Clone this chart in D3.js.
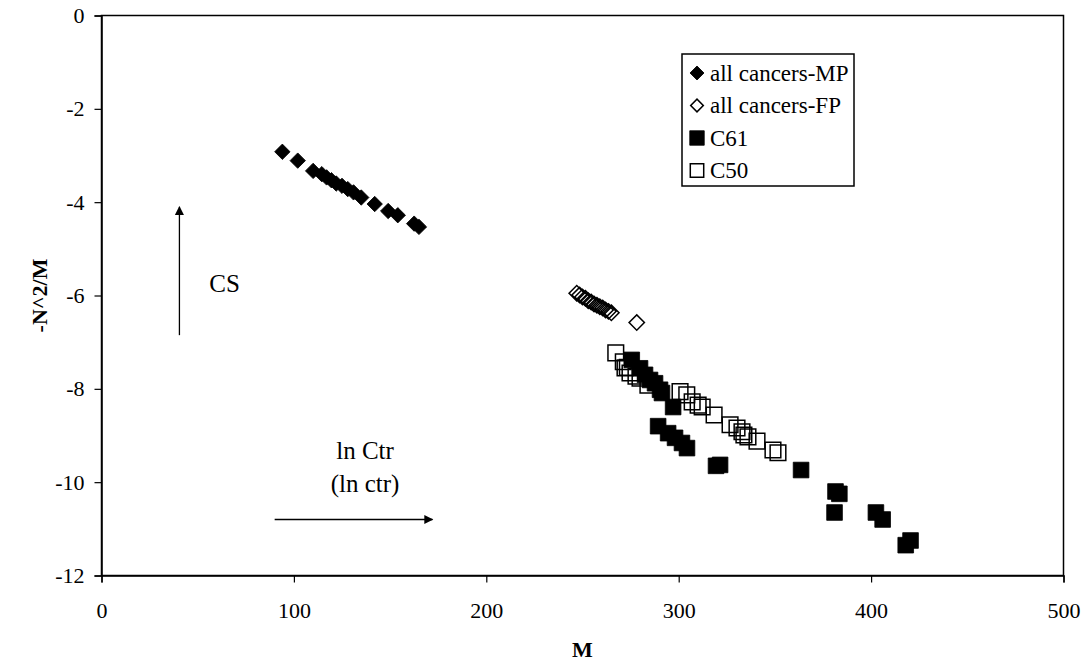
<!DOCTYPE html>
<html>
<head>
<meta charset="utf-8">
<script src="https://cdn.jsdelivr.net/npm/d3@7"></script>
<style>
  html, body { margin: 0; padding: 0; background: #fff; }
  svg { display: block; }
  text { font-family: "Liberation Serif", "Times New Roman", serif; fill: #000; }
</style>
</head>
<body>
<svg id="chart" width="1083" height="666"></svg>
<script>
// Series: [M, -N^2/M]
const allCancersMP = [
  [94, -2.92], [102, -3.11], [110, -3.33], [114.5, -3.40], [117, -3.47],
  [119.5, -3.53], [122, -3.60], [125, -3.65], [128, -3.72], [131, -3.79],
  [135, -3.90], [142, -4.04], [149, -4.19], [154, -4.28], [162.5, -4.46],
  [165, -4.53]
];
const allCancersFP = [
  [247, -5.95], [248.5, -5.99], [250, -6.03], [251.5, -6.06], [253, -6.11],
  [254.5, -6.14], [256, -6.18], [257.5, -6.21], [259, -6.24], [260.5, -6.27],
  [262, -6.31], [263.5, -6.34], [265, -6.37], [278.2, -6.58]
];
const c61 = [
  [275.6, -7.38], [279.9, -7.56], [282.5, -7.70], [285.1, -7.81], [287.7, -7.88],
  [290.3, -8.02], [291.3, -8.09], [297.1, -8.39], [289.3, -8.80], [294.5, -8.95],
  [298.1, -9.05], [301.7, -9.16], [304.3, -9.27], [319.4, -9.65], [321.5, -9.63],
  [363.6, -9.74], [381.5, -10.20], [383.5, -10.25], [381, -10.65], [402.5, -10.65],
  [406, -10.80], [418, -11.35], [420.5, -11.25]
];
const c50 = [
  [267.3, -7.23], [271.2, -7.42], [272.1, -7.55], [273.3, -7.54], [274.7, -7.66],
  [277.8, -7.73], [279.9, -7.77], [284, -7.92], [300.7, -8.06], [304.2, -8.13],
  [307.0, -8.28], [310.1, -8.35], [312.2, -8.39], [318.4, -8.56], [326.7, -8.77],
  [330.3, -8.84], [332.9, -8.92], [333.9, -8.99], [336.0, -9.03], [340.7, -9.12],
  [349.0, -9.31], [351.6, -9.37]
];
const xTicks = [0, 100, 200, 300, 400, 500];
const yTicks = [0, -2, -4, -6, -8, -10, -12];
const legendLabels = ["all cancers-MP", "all cancers-FP", "C61", "C50"];

const svg = d3.select("#chart");
svg.append("rect").attr("width", 1083).attr("height", 666).attr("fill", "#fff");

const plotLeft = 101.5, plotRight = 1063.5, plotTop = 15.5, plotBottom = 575.5;
const x = d3.scaleLinear().domain([0, 500]).range([plotLeft, plotRight]);
const y = d3.scaleLinear().domain([-12, 0]).range([plotBottom, plotTop]);

// Plot frame
svg.append("rect")
  .attr("x", plotLeft).attr("y", plotTop)
  .attr("width", plotRight - plotLeft).attr("height", plotBottom - plotTop)
  .attr("fill", "none").attr("stroke", "#000").attr("stroke-width", 1.5);

// Axes
const fmt = d => String(d);
const xAxis = svg.append("g")
  .attr("transform", `translate(0,${plotBottom})`)
  .call(d3.axisBottom(x).tickValues(xTicks).tickFormat(fmt).tickSize(7).tickPadding(20));
const yAxis = svg.append("g")
  .attr("transform", `translate(${plotLeft},0)`)
  .call(d3.axisLeft(y).tickValues(yTicks).tickFormat(fmt).tickSize(7).tickPadding(10));
[xAxis, yAxis].forEach(g => {
  g.select(".domain").attr("stroke", "#000").attr("stroke-width", 1.5);
  g.selectAll(".tick line").attr("stroke", "#000").attr("stroke-width", 1.2);
  g.selectAll(".tick text")
    .attr("font-family", "Liberation Serif, serif")
    .attr("font-size", 22).attr("fill", "#000");
});

// Axis titles
svg.append("text")
  .attr("x", (plotLeft + plotRight) / 2).attr("y", 657)
  .attr("text-anchor", "middle")
  .attr("font-size", 22).attr("font-weight", "bold")
  .text("M");
svg.append("text")
  .attr("transform", `translate(47,${(plotTop + plotBottom) / 2}) rotate(-90)`)
  .attr("text-anchor", "middle")
  .attr("font-size", 22).attr("font-weight", "bold")
  .text("-N^2/M");

// Marker shapes
const diamond = d3.symbol().type(d3.symbolSquare).size(118)();
const square = d3.symbol().type(d3.symbolSquare).size(245)();

function drawSeries(data, path, filled, rotate) {
  svg.append("g").selectAll("path")
    .data(data).join("path")
    .attr("d", path)
    .attr("transform", d => `translate(${x(d[0])},${y(d[1])})${rotate ? " rotate(45)" : ""}`)
    .attr("fill", filled ? "#000" : "none")
    .attr("stroke", "#000")
    .attr("stroke-width", filled ? 0.8 : 1.5);
}
drawSeries(allCancersMP, diamond, true, true);
drawSeries(allCancersFP, diamond, false, true);
drawSeries(c61, square, true, false);
drawSeries(c50, square, false, false);

// Annotation arrows
const defs = svg.append("defs");
defs.append("marker")
  .attr("id", "arrow").attr("viewBox", "0 0 10 10")
  .attr("refX", 9).attr("refY", 5)
  .attr("markerWidth", 10).attr("markerHeight", 9)
  .attr("markerUnits", "userSpaceOnUse")
  .attr("orient", "auto")
  .append("path").attr("d", "M0,0 L10,5 L0,10 Z").attr("fill", "#000");

svg.append("line")
  .attr("x1", x(40.5)).attr("y1", y(-6.85))
  .attr("x2", x(40.5)).attr("y2", y(-4.1))
  .attr("stroke", "#000").attr("stroke-width", 1.3)
  .attr("marker-end", "url(#arrow)");
svg.append("line")
  .attr("x1", x(90)).attr("y1", y(-10.8))
  .attr("x2", x(172)).attr("y2", y(-10.8))
  .attr("stroke", "#000").attr("stroke-width", 1.3)
  .attr("marker-end", "url(#arrow)");

svg.append("text")
  .attr("x", x(64)).attr("y", y(-5.92))
  .attr("text-anchor", "middle").attr("font-size", 25)
  .text("CS");
svg.append("text")
  .attr("x", x(137)).attr("y", y(-9.5))
  .attr("text-anchor", "middle").attr("font-size", 25)
  .text("ln Ctr");
svg.append("text")
  .attr("x", x(137)).attr("y", y(-10.2))
  .attr("text-anchor", "middle").attr("font-size", 25)
  .text("(ln ctr)");

// Legend
const legend = svg.append("g").attr("transform", "translate(682,54)");
legend.append("rect")
  .attr("width", 172).attr("height", 132)
  .attr("fill", "#fff").attr("stroke", "#000").attr("stroke-width", 1.5);
const legendShapes = [
  { path: d3.symbol().type(d3.symbolSquare).size(98)(), filled: true, rotate: true },
  { path: d3.symbol().type(d3.symbolSquare).size(80)(), filled: false, rotate: true },
  { path: d3.symbol().type(d3.symbolSquare).size(210)(), filled: true, rotate: false },
  { path: d3.symbol().type(d3.symbolSquare).size(180)(), filled: false, rotate: false }
];
legendLabels.forEach((label, i) => {
  const cy = 19 + i * 32.5;
  const s = legendShapes[i];
  legend.append("path")
    .attr("d", s.path)
    .attr("transform", `translate(15,${cy})${s.rotate ? " rotate(45)" : ""}`)
    .attr("fill", s.filled ? "#000" : "none")
    .attr("stroke", "#000").attr("stroke-width", s.filled ? 0.8 : 1.5);
  legend.append("text")
    .attr("x", 28).attr("y", cy + 7.5)
    .attr("font-size", 23)
    .text(label);
});
</script>
</body>
</html>
